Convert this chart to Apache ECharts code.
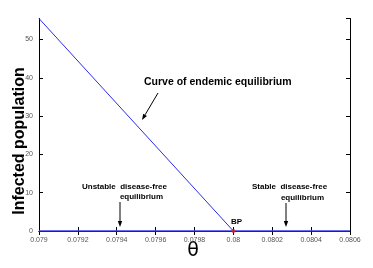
<!DOCTYPE html>
<html><head><meta charset="utf-8">
<script src="https://cdn.jsdelivr.net/npm/echarts@6/dist/echarts.min.js"></script>
<style>html,body{margin:0;padding:0;background:#fff}#c{width:373px;height:268px}</style>
</head><body><div id="c"></div>
<script>
var thetaRange = [0.079, 0.0806];
var yRange = [0, 55.5];
var endemicCurve = [[0.079, 55.5], [0.08, 0]];
var diseaseFree = [[0.079, 0], [0.0806, 0]];
var bifurcationPoint = [[0.08, 0]];
var labels = {
  curve: 'Curve of endemic equilibrium',
  unstable1: 'Unstable  disease-free', unstable2: 'equilibrium',
  stable1: 'Stable  disease-free', stable2: 'equilibrium',
  bp: 'BP', xName: 'θ', yName: 'Infected population'
};

var chart = echarts.init(document.getElementById('c'), null, {renderer: 'canvas'});
var fmt = function (v) { return String(parseFloat(v.toFixed(5))); };
var axisLine = {show: true, lineStyle: {color: '#000', width: 1}};
var tick = {show: true, inside: true, length: 4, lineStyle: {color: '#000'}};
var lbl = {color: '#555', fontSize: 7, fontFamily: 'Liberation Sans'};
var bold = function (x, y, t, size, align) {
  return {type: 'text', x: x, y: y, style: {text: t, fill: '#000', font: 'bold ' + size + 'px "Liberation Sans"', align: align || 'left', verticalAlign: 'middle'}};
};
var arrow = function (x1, y1, x2, y2) {
  var a = Math.atan2(y2 - y1, x2 - x1), L = 6, W = 2.2;
  var bx = x2 - L * Math.cos(a), by = y2 - L * Math.sin(a);
  var px = -Math.sin(a) * W, py = Math.cos(a) * W;
  return [
    {type: 'line', shape: {x1: x1, y1: y1, x2: bx, y2: by}, style: {stroke: '#000', lineWidth: 1}},
    {type: 'polygon', shape: {points: [[x2, y2], [bx + px, by + py], [bx - px, by - py]]}, style: {fill: '#000'}}
  ];
};
var g = [
  bold(144, 82, labels.curve, 10.5),
  bold(82, 187, labels.unstable1, 8), bold(163, 197, labels.unstable2, 8, 'right'),
  bold(252, 187, labels.stable1, 8), bold(324, 198, labels.stable2, 8, 'right'),
  bold(231, 222, labels.bp, 8),
  {type: 'text', x: 193, y: 251, style: {text: labels.xName, fill: '#000', font: '19px "DejaVu Sans"', align: 'center', verticalAlign: 'middle'}},
  {type: 'text', x: 20, y: 141, rotation: Math.PI / 2, style: {text: labels.yName, fill: '#000', font: 'bold 16px "Liberation Sans"', align: 'center', verticalAlign: 'middle'}}
].concat(arrow(158, 93, 142, 120), arrow(120, 202, 120, 227), arrow(286, 203, 286, 227));

chart.setOption({
  animation: false,
  grid: {left: 39, right: 23, top: 18.5, bottom: 37},
  xAxis: [
    {type: 'value', min: thetaRange[0], max: thetaRange[1], interval: 0.0002, position: 'bottom',
     axisLine: axisLine, axisTick: tick, splitLine: {show: false},
     axisLabel: Object.assign({formatter: fmt, margin: 6, showMaxLabel: true, showMinLabel: true}, lbl)},
    {type: 'value', min: thetaRange[0], max: thetaRange[1], interval: 0.0002, position: 'top',
     axisLine: axisLine, axisTick: tick, splitLine: {show: false}, axisLabel: {show: false}}
  ],
  yAxis: [
    {type: 'value', min: yRange[0], max: yRange[1], interval: 10, position: 'left',
     axisLine: axisLine, axisTick: tick, splitLine: {show: false},
     axisLabel: Object.assign({margin: 6, showMaxLabel: false}, lbl)},
    {type: 'value', min: yRange[0], max: yRange[1], interval: 10, position: 'right',
     axisLine: axisLine, axisTick: tick, splitLine: {show: false}, axisLabel: {show: false}}
  ],
  series: [
    {type: 'line', data: endemicCurve, symbol: 'none', lineStyle: {color: '#2b2bf0', width: 1}, z: 3},
    {type: 'line', data: diseaseFree, symbol: 'none', lineStyle: {color: '#3a3af0', width: 1.5}, z: 3},
    {type: 'scatter', data: bifurcationPoint, symbol: 'circle', symbolSize: 4, itemStyle: {color: '#e02020'}, z: 4}
  ],
  graphic: g
});
</script></body></html>
